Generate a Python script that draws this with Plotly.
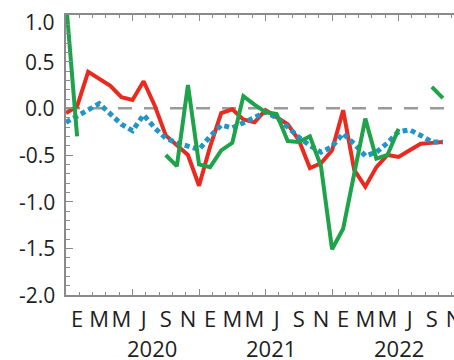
import plotly.graph_objects as go

# Monthly index: 0 = Dec 2019 ... 34 = Oct 2022
months = list(range(35))

red = [-0.05, 0.02, 0.39, 0.31, 0.24, 0.12, 0.09, 0.29, 0.03, -0.29,
       -0.40, -0.50, -0.83, -0.41, -0.05, -0.01, -0.12, -0.15, -0.02, -0.10,
       -0.17, -0.34, -0.64, -0.59, -0.45, -0.02, -0.66, -0.84, -0.63, -0.50,
       -0.52, -0.45, -0.38, -0.37, -0.36]

green = [1.15, -0.30, None, None, None, None, None, None, None, -0.50,
         -0.62, 0.25, -0.60, -0.63, -0.45, -0.37, 0.13, 0.04, -0.04, -0.06,
         -0.35, -0.36, -0.30, -0.62, -1.51, -1.29, -0.70, -0.11, -0.54, -0.50,
         -0.22, None, None, 0.23, 0.11]

blue = [-0.15, -0.08, -0.02, 0.05, -0.06, -0.17, -0.24, -0.07, -0.21, -0.32,
        -0.37, -0.40, -0.44, -0.30, -0.18, -0.21, -0.16, -0.10, -0.04, -0.10,
        -0.20, -0.31, -0.40, -0.47, -0.41, -0.27, -0.38, -0.51, -0.47, -0.37,
        -0.25, -0.23, -0.29, -0.36, -0.36]

# Month initials (Spanish), every other month from Jan 2020
month_letters = ["E", "M", "M", "J", "S", "N"] * 3
month_label_pos = list(range(1, 36, 2))

years = ["2020", "2021", "2022"]
year_pos = [7.8, 18.5, 30.0]

y_tickvals = [-2.0, -1.5, -1.0, -0.5, 0.0, 0.5, 1.0]
y_ticktext = ["-2.0", "-1.5", "-1.0", "-0.5", "0.0", "0.5", "1.0"]

RED = "#ea2a1e"
GREEN = "#1fa34a"
BLUE = "#2195c6"
AXIS = "#8a8a8a"
TEXT = "#1e1e1e"
FONT = "Open Sans"

fig = go.Figure()
fig.add_trace(go.Scatter(x=months, y=red, mode="lines",
                         line=dict(color=RED, width=4), showlegend=False))
fig.add_trace(go.Scatter(x=months, y=blue, mode="lines",
                         line=dict(color=BLUE, width=5, dash="5px,3.5px"),
                         showlegend=False))
fig.add_trace(go.Scatter(x=months, y=green, mode="lines", connectgaps=False,
                         line=dict(color=GREEN, width=4), showlegend=False))
# carrier trace for the label axis
fig.add_trace(go.Scatter(x=[0, 35], y=[None, None], xaxis="x2", yaxis="y",
                         mode="lines", showlegend=False, hoverinfo="skip"))

fig.add_shape(type="line", xref="paper", x0=0, x1=1, yref="y", y0=0, y1=0,
              line=dict(color="#9a9a9a", width=2.5, dash="14px,12px"),
              layer="below")

# y tick labels, right-aligned just left of the axis line
for val, txt in zip(y_tickvals, y_ticktext):
    fig.add_annotation(x=-0.023, xref="paper", y=val, yref="y", text=txt,
                       showarrow=False, xanchor="right", yanchor="middle",
                       yshift=-7 if val == max(y_tickvals) else 0,
                       font=dict(family=FONT, size=21, color=TEXT))

for yr, xp in zip(years, year_pos):
    fig.add_annotation(x=xp, xref="x", y=-0.19, yref="paper", text=yr,
                       showarrow=False, xanchor="center", yanchor="middle",
                       font=dict(family=FONT, size=22, color=TEXT))

fig.update_layout(
    width=454, height=360,
    margin=dict(l=66, r=0, t=15, b=65, autoexpand=False),
    paper_bgcolor="white", plot_bgcolor="white",
    xaxis=dict(range=[0, 35], showline=True, linecolor=AXIS, linewidth=1.5,
               mirror="ticks", ticks="inside", tick0=0, dtick=6, ticklen=6,
               tickcolor=AXIS, tickwidth=1, showticklabels=False,
               showgrid=False, zeroline=False, automargin=False,
               minor=dict(tick0=0, dtick=1.2, ticklen=3, ticks="inside",
                          tickcolor=AXIS, tickwidth=1, showgrid=False)),
    xaxis2=dict(range=[0, 35], overlaying="x", anchor="y", side="bottom",
                tickmode="array", tickvals=month_label_pos,
                ticktext=month_letters, ticks="", showline=False,
                showgrid=False, zeroline=False, automargin=False,
                ticklabeloverflow="allow", ticklabelstandoff=9,
                tickfont=dict(family=FONT, size=22, color=TEXT)),
    yaxis=dict(range=[-2.0, 1.0], showline=True, linecolor=AXIS, linewidth=1.5,
               ticks="inside", tickmode="array", tickvals=y_tickvals,
               ticklen=7, tickcolor=AXIS, tickwidth=1, showticklabels=False,
               showgrid=False, zeroline=False, automargin=False,
               minor=dict(tick0=0, dtick=0.1, ticklen=4, ticks="inside",
                          tickcolor=AXIS, tickwidth=1, showgrid=False)),
)

fig.write_html("out.html")
